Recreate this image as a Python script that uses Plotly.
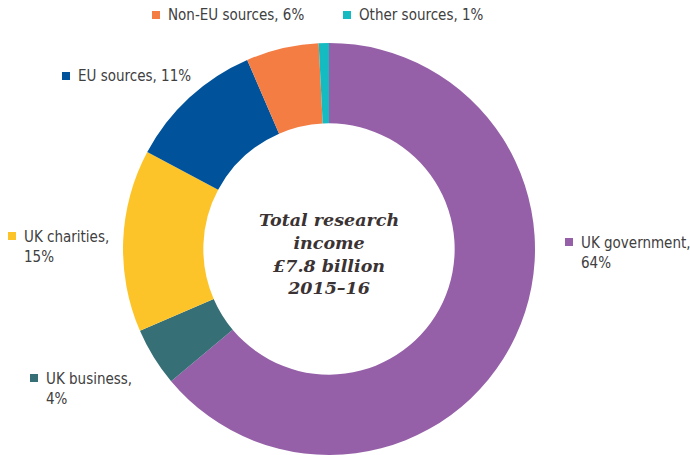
import plotly.graph_objects as go

# ---- data ----
categories = ["UK government", "UK business", "UK charities", "EU sources", "Non-EU sources", "Other sources"]
shares = [63.9, 4.6, 14.3, 10.7, 5.7, 0.8]
share_labels = ["64%", "4%", "15%", "11%", "6%", "1%"]
colors = ["#9560a8", "#366f76", "#fdc42a", "#00529b", "#f37d43", "#14bcc1"]
center_lines = ["Total research", "income", "£7.8 billion", "2015–16"]

W, H = 690, 455

def px(x):
    return x / W

def py(y):
    return 1 - y / H

fig = go.Figure()
fig.add_trace(go.Pie(
    labels=categories,
    values=shares,
    sort=False,
    direction="clockwise",
    rotation=0,
    hole=0.61,
    marker=dict(colors=colors, line=dict(width=0)),
    textinfo="none",
    hoverinfo="label+percent",
    domain=dict(x=[px(123), px(535)], y=[py(455), py(43)]),
    showlegend=False,
))

# label placement (text left x, vertical centre y of block, two-line?)
label_pos = {
    "UK government": (580, 253, True),
    "UK business": (45, 389, True),
    "UK charities": (23, 247, True),
    "EU sources": (77, 76, False),
    "Non-EU sources": (167, 15, False),
    "Other sources": (358, 15, False),
}
marker_y_offset = 11  # marker sits beside first line when two lines

annotations = []
shapes = []
for cat, lab, col in zip(categories, share_labels, colors):
    x0, yc, two = label_pos[cat]
    text = f"{cat},<br>{lab}" if two else f"{cat}, {lab}"
    annotations.append(dict(
        x=px(x0 - 1), y=py(yc), xref="paper", yref="paper",
        xanchor="left", yanchor="middle", align="left",
        text=text, showarrow=False,
        font=dict(family="DejaVu Sans Condensed, Liberation Sans, sans-serif", size=15, color="#404040"),
    ))
    my = yc - marker_y_offset if two else yc
    shapes.append(dict(
        type="rect", xref="paper", yref="paper",
        x0=px(x0 - 15), x1=px(x0 - 7), y0=py(my - 4), y1=py(my + 4),
        fillcolor=col, line=dict(width=0),
    ))

annotations.append(dict(
    x=px(329), y=py(254), xref="paper", yref="paper",
    xanchor="center", yanchor="middle", align="center",
    text="<b><i>" + "<br>".join(center_lines) + "</i></b>",
    showarrow=False,
    font=dict(family="DejaVu Serif, serif", size=17.5, color="#3b3333"),
))

fig.update_layout(
    width=W, height=H,
    margin=dict(l=0, r=0, t=0, b=0),
    paper_bgcolor="white",
    plot_bgcolor="white",
    annotations=annotations,
    shapes=shapes,
)

fig.write_html(
    "out.html",
    config={"displayModeBar": False},
    post_script="document.body.style.margin='0';document.body.style.overflow='hidden';",
)
